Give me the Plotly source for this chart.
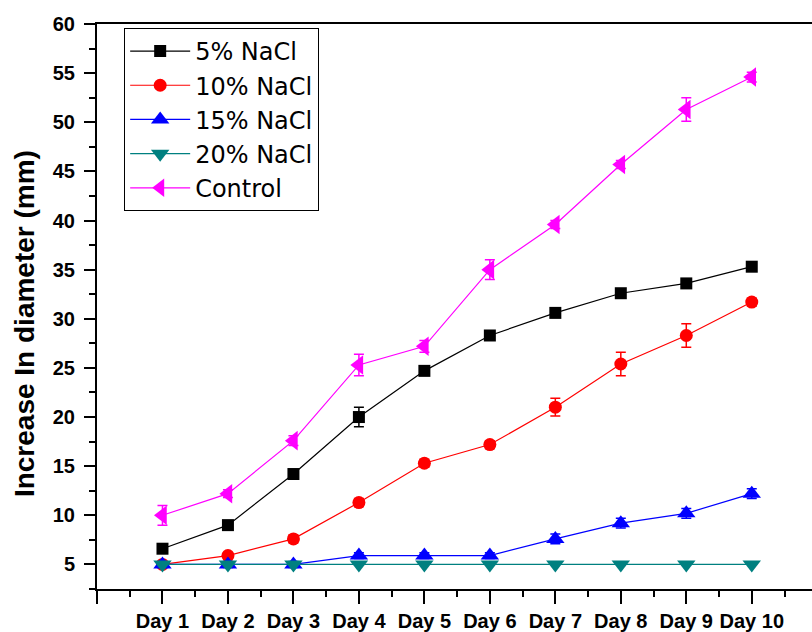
import plotly.graph_objects as go

# ---- data ----
days = ["Day 1", "Day 2", "Day 3", "Day 4", "Day 5", "Day 6", "Day 7", "Day 8", "Day 9", "Day 10"]
day_pos = [1, 2, 3, 4, 5, 6, 7, 8, 9, 10]

nacl5 = [6.6, 9.0, 14.2, 20.0, 24.7, 28.3, 30.6, 32.6, 33.6, 35.3]
nacl5_err = [0.3, 0.3, 0.4, 1.0, 0.4, 0.3, 0.3, 0.3, 0.3, 0.3]

nacl10 = [5.0, 5.9, 7.6, 11.3, 15.3, 17.2, 21.0, 25.4, 28.3, 31.7]
nacl10_err = [0.2, 0.3, 0.4, 0.4, 0.4, 0.4, 0.9, 1.2, 1.2, 0.4]

nacl15 = [5.0, 5.0, 5.0, 5.9, 5.9, 5.9, 7.6, 9.2, 10.2, 12.2]
nacl15_err = [0.3, 0.3, 0.3, 0.3, 0.3, 0.3, 0.5, 0.5, 0.5, 0.5]

nacl20 = [5.0, 5.0, 5.0, 5.0, 5.0, 5.0, 5.0, 5.0, 5.0, 5.0]

control = [10.0, 12.2, 17.6, 25.3, 27.2, 35.0, 39.6, 45.7, 51.3, 54.6]
control_err = [1.0, 0.4, 0.5, 1.1, 0.6, 1.0, 0.4, 0.4, 1.2, 0.5]

y_ticks = [5, 10, 15, 20, 25, 30, 35, 40, 45, 50, 55, 60]
y_title = "Increase In diameter (mm)"

FONT = "Liberation Sans, Arial, sans-serif"

series = [
    ("5% NaCl", nacl5, nacl5_err, "#000000", "square", 12),
    ("10% NaCl", nacl10, nacl10_err, "#FF0000", "circle", 13),
    ("15% NaCl", nacl15, nacl15_err, "#0000FF", "triangle-up", 16),
    ("20% NaCl", nacl20, None, "#008080", "triangle-down", 16),
    ("Control", control, control_err, "#FF00FF", "triangle-left", 17),
]

fig = go.Figure()
for name, vals, err, color, sym, size in series:
    kw = {}
    if err is not None:
        kw["error_y"] = dict(type="data", array=err, visible=True,
                             color=color, thickness=1.5, width=5)
    fig.add_trace(go.Scatter(
        x=day_pos, y=vals, name=name, mode="lines+markers",
        line=dict(color=color, width=1.2),
        marker=dict(symbol=sym, size=size, color=color, line=dict(width=0)),
        **kw,
    ))

fig.update_layout(
    width=812, height=632,
    margin=dict(l=97, r=0, t=24, b=39),
    paper_bgcolor="white", plot_bgcolor="white",
    font=dict(family=FONT, color="black"),
    showlegend=True,
    legend=dict(
        x=0.038, y=0.993, xanchor="left", yanchor="top",
        bordercolor="black", borderwidth=1, bgcolor="white",
        font=dict(family="DejaVu Sans, " + FONT, size=24, color="black"),
        tracegroupgap=0, itemwidth=60,
    ),
    annotations=[dict(
        text=y_title, textangle=-90, showarrow=False,
        xref="paper", yref="paper", x=-0.102, y=0.469,
        xanchor="center", yanchor="middle",
        font=dict(family=FONT, size=28, weight="bold", color="black"),
    )],
)

fig.update_xaxes(
    range=[0, 10.92],
    tickmode="array",
    tickvals=[0] + day_pos,
    ticktext=[""] + days,
    ticks="outside", ticklen=13, tickwidth=2, tickcolor="black",
    tickfont=dict(family=FONT, size=20, weight="bold", color="black"),
    showline=True, linewidth=2, linecolor="black", mirror=True,
    showgrid=False, zeroline=False,
    minor=dict(tickvals=[p - 0.5 for p in day_pos] + [10.5],
               ticks="outside", ticklen=6, tickwidth=2, tickcolor="black",
               showgrid=False),
)

fig.update_yaxes(
    range=[2.5, 60],
    tickmode="array", tickvals=y_ticks,
    ticks="outside", ticklen=11, tickwidth=2, tickcolor="black",
    tickfont=dict(family=FONT, size=20, weight="bold", color="black"),
    ticklabelstandoff=5,
    showline=True, linewidth=2, linecolor="black", mirror=False,
    showgrid=False, zeroline=False,
    minor=dict(tickvals=[t - 2.5 for t in y_ticks],
               ticks="outside", ticklen=6, tickwidth=2, tickcolor="black",
               showgrid=False),
)

fig.write_html("out.html")
